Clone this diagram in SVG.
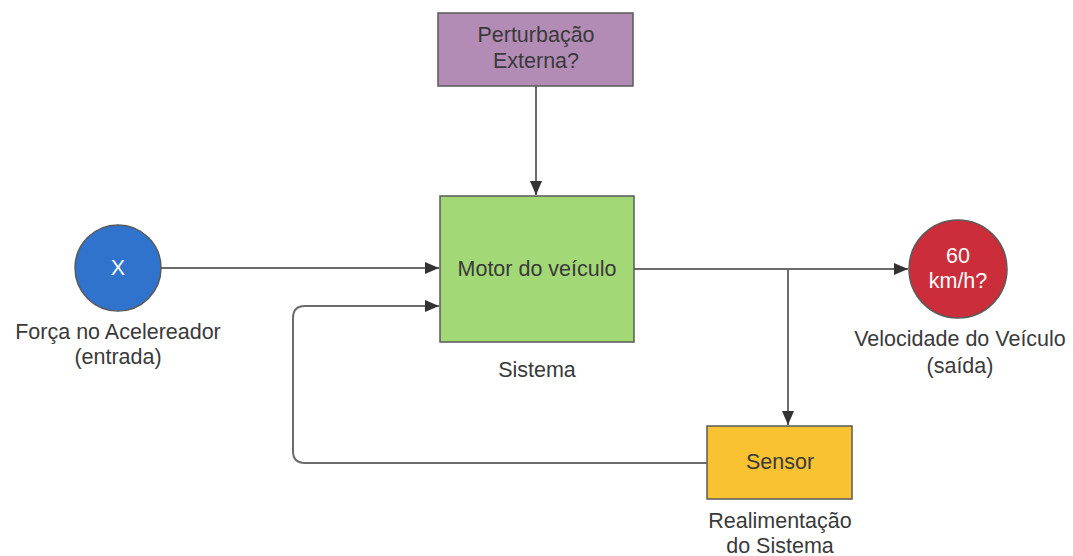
<svg xmlns="http://www.w3.org/2000/svg" width="1073" height="556" viewBox="0 0 1073 556">
  <style>
    text { font-family: "Liberation Sans", Arial, sans-serif; font-size: 21.5px; fill: #3a3a3a; text-anchor: middle; }
    .light { fill: #ffffff; }
    .node { stroke: #5a5a5a; stroke-width: 1.5; }
    .wire { fill: none; stroke: #6b6b6b; stroke-width: 2; }
  </style>
  <defs>
    <marker id="arrow" viewBox="0 0 14 12" refX="14" refY="6" markerWidth="14" markerHeight="12" markerUnits="userSpaceOnUse" orient="auto">
      <path d="M0,0 L14,6 L0,12 Z" fill="#333333"/>
    </marker>
  </defs>
  <rect width="1073" height="556" fill="#ffffff"/>

  <g id="connectors">
    <line class="wire" x1="536" y1="86" x2="536" y2="195" marker-end="url(#arrow)"/>
    <line class="wire" x1="161" y1="268" x2="439" y2="268" marker-end="url(#arrow)"/>
    <line class="wire" x1="634" y1="269" x2="908" y2="269" marker-end="url(#arrow)"/>
    <line class="wire" x1="788" y1="269" x2="788" y2="425" marker-end="url(#arrow)"/>
    <path class="wire" d="M707,463 H305 Q293,463 293,451 V318 Q293,306 305,306 H439" marker-end="url(#arrow)"/>
  </g>

  <g id="perturbacao">
    <rect class="node" x="438" y="13" width="195" height="73" fill="#b28cb5"/>
    <text x="536" y="42">Perturbação</text>
    <text x="536" y="68">Externa?</text>
  </g>

  <g id="motor">
    <rect class="node" x="440" y="196" width="194" height="146" fill="#a3d877"/>
    <text x="537" y="276">Motor do veículo</text>
    <text x="537" y="377">Sistema</text>
  </g>

  <g id="entrada">
    <circle class="node" cx="118" cy="268" r="43" fill="#2f73cc"/>
    <text class="light" x="118" y="275">X</text>
    <text x="118" y="339">Força no Acelereador</text>
    <text x="118" y="364">(entrada)</text>
  </g>

  <g id="saida">
    <circle class="node" cx="958" cy="269" r="49" fill="#cc2d3a"/>
    <text class="light" x="958" y="263">60</text>
    <text class="light" x="958" y="288">km/h?</text>
    <text x="960" y="346">Velocidade do Veículo</text>
    <text x="960" y="373">(saída)</text>
  </g>

  <g id="sensor">
    <rect class="node" x="707" y="426" width="145" height="73" fill="#f9c233"/>
    <text x="780" y="469">Sensor</text>
    <text x="780" y="528">Realimentação</text>
    <text x="780" y="553">do Sistema</text>
  </g>
</svg>
